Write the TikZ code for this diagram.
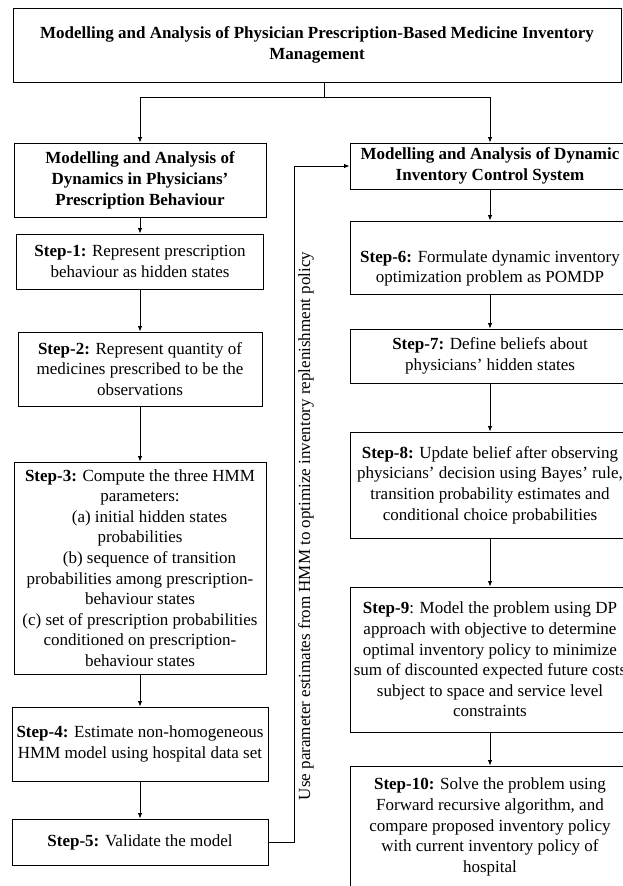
\documentclass[tikz,border=0pt]{standalone}
\usepackage{fontspec}
\setmainfont{Liberation Serif}
\usetikzlibrary{positioning,arrows.meta}

\tikzset{
  box/.style={draw, line width=0.9pt, align=center, inner sep=2pt,
    font=\fontsize{17pt}{20.6pt}\selectfont},
  headbox/.style={box, font=\fontsize{17pt}{21pt}\selectfont\bfseries},
  arr/.style={line width=0.9pt, -{Latex[length=5.5pt,width=4.5pt]}},
}

\begin{document}
\begin{tikzpicture}[x=1pt,y=-1pt]
\useasboundingbox (0,0) rectangle (622,886);

% top
\node (top) [headbox, minimum width=608pt, minimum height=74pt] at (317,45)
  {Modelling and Analysis of Physician Prescription-Based Medicine Inventory\\Management};

% left column
\node (lhead) [headbox, minimum width=252pt, minimum height=74pt] at (140,180)
  {Modelling and Analysis of\\Dynamics in Physicians’\\Prescription Behaviour};
\node (s1) [box, minimum width=247pt, minimum height=55pt] at (140,261.5)
  {\textbf{Step-1:} Represent prescription\\behaviour as hidden states};
\node (s2) [box, minimum width=244pt, minimum height=74pt] at (140,369)
  {\textbf{Step-2:} Represent quantity of\\medicines prescribed to be the\\observations};
\node (s3) [box, minimum width=252pt, minimum height=212pt] at (140,568)
  {\textbf{Step-3:} Compute the three HMM\\parameters:\\\hspace*{19pt}(a) initial hidden states\\probabilities\\
   \hspace*{19pt}(b) sequence of transition\\probabilities among prescription-\\behaviour states\\
   (c) set of prescription probabilities\\conditioned on prescription-\\behaviour states};
\node (s4) [box, minimum width=256pt, minimum height=74pt] at (140,744)
  {\textbf{Step-4:} Estimate non-homogeneous\\HMM model using hospital data set};
\node (s5) [box, minimum width=256pt, minimum height=46pt] at (140,842)
  {\textbf{Step-5:} Validate the model};

% right column
\node (rhead) [headbox, minimum width=280pt, minimum height=46pt] at (490,166)
  {Modelling and Analysis of Dynamic\\Inventory Control System};
\node (s6) [box, minimum width=280pt, minimum height=73pt] at (490,257.5)
  {\rule{0pt}{34pt}\textbf{Step-6:} Formulate dynamic inventory\\optimization problem as POMDP};
\node (s7) [box, minimum width=280pt, minimum height=54pt] at (490,356)
  {\textbf{Step-7:} Define beliefs about\\physicians’ hidden states};
\node (s8) [box, minimum width=280pt, minimum height=106pt] at (490,485)
  {\textbf{Step-8:} Update belief after observing\\physicians’ decision using Bayes’ rule,\\transition probability estimates and\\conditional choice probabilities};
\node (s9) [box, minimum width=280pt, minimum height=145pt] at (490,659.5)
  {\textbf{Step-9}: Model the problem using DP\\approach with objective to determine\\optimal inventory policy to minimize\\sum of discounted expected future costs\\subject to space and service level\\constraints};
\node (s10) [box, minimum width=280pt, minimum height=122pt] at (490,827)
  {\textbf{Step-10:} Solve the problem using\\Forward recursive algorithm, and\\compare proposed inventory policy\\with current inventory policy of\\hospital};

% split from top
\coordinate (bus) at (324,97);
\draw[line width=0.9pt] (bus |- top.south) -- (bus);
\draw[arr] (bus) -| (lhead.north);
\draw[arr] (bus) -| (rhead.north);

% steps
\draw[arr] (lhead) -- (s1);
\draw[arr] (s1) -- (s2);
\draw[arr] (s2) -- (s3);
\draw[arr] (s3) -- (s4);
\draw[arr] (s4) -- (s5);
\draw[arr] (rhead) -- (s6);
\draw[arr] (s6) -- (s7);
\draw[arr] (s7) -- (s8);
\draw[arr] (s8) -- (s9);
\draw[arr] (s9) -- (s10);

% feedback
\coordinate (fbx) at (294,0);
\draw[arr] (s5.east) -| (fbx |- rhead.west) -- (rhead.west);
\node (fblabel) [rotate=90, font=\fontsize{17pt}{20.6pt}\selectfont] at (306,526)
  {Use parameter estimates from HMM to optimize inventory replenishment policy};
\end{tikzpicture}
\end{document}
